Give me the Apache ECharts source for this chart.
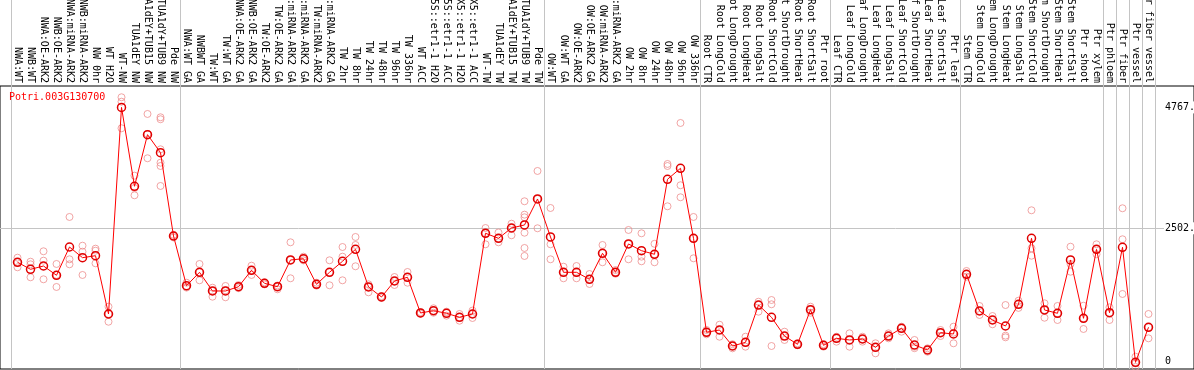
<!DOCTYPE html>
<html>
<head>
<meta charset="utf-8">
<script src="https://cdn.jsdelivr.net/npm/echarts@6/dist/echarts.min.js"></script>
<style>
  html, body { margin: 0; padding: 0; background: #fff; }
  #chart { width: 1194px; height: 370px; }
</style>
</head>
<body>
<div id="chart"></div>
<script>
const categories = [
  'NWA:WT', 'NWB:WT', 'NWA:OE-ARK2', 'NWB:OE-ARK2', 'NWA:miRNA-ARK2', 'NWB:miRNA-ARK2',
  'NW 0hr', 'WT H2O', 'WT-NW', 'TUA1dEY NW', 'TUA1dEY+TUB15 NW', 'TUA1dY+TUB9 NW', 'Pde NW',
  'NWA:WT GA', 'NWBWT GA', 'TW:WT', 'TW:WT GA', 'NWA:OE-ARK2 GA', 'NWB:OE-ARK2 GA',
  'TW:OE-ARK2', 'TW:OE-ARK2 GA', 'NWA:miRNA-ARK2 GA', 'NWB:miRNA-ARK2 GA', 'TW:miRNA-ARK2',
  'TW:miRNA-ARK2 GA', 'TW 2hr', 'TW 8hr', 'TW 24hr', 'TW 48hr', 'TW 96hr', 'TW 336hr', 'WT ACC',
  '35S::etr1-1 H2O', '35S::etr1-1 ACC', 'LMX5::etr1-1 H2O', 'LMX5::etr1-1 ACC', 'WT-TW',
  'TUA1dEY TW', 'TUA1dEY+TUB15 TW', 'TUA1dY+TUB9 TW', 'Pde TW',
  'OW:WT', 'OW:WT GA', 'OW:OE-ARK2', 'OW:OE-ARK2 GA', 'OW:miRNA-ARK2', 'OW:miRNA-ARK2 GA',
  'OW 2hr', 'OW 8hr', 'OW 24hr', 'OW 48hr', 'OW 96hr', 'OW 336hr',
  'Root CTR', 'Root LongCold', 'Root LongDrought', 'Root LongHeat', 'Root LongSalt',
  'Root ShortCold', 'Root ShortDrought', 'Root ShortHeat', 'Root ShortSalt', 'Ptr root',
  'Leaf CTR', 'Leaf LongCold', 'Leaf LongDrought', 'Leaf LongHeat', 'Leaf LongSalt',
  'Leaf ShortCold', 'Leaf ShortDrought', 'Leaf ShortHeat', 'Leaf ShortSalt', 'Ptr leaf',
  'Stem CTR', 'Stem LongCold', 'Stem LongDrought', 'Stem LongHeat', 'Stem LongSalt',
  'Stem ShortCold', 'Stem ShortDrought', 'Stem ShortHeat', 'Stem ShortSalt', 'Ptr shoot',
  'Ptr xylem', 'Ptr phloem', 'Ptr fiber', 'Ptr vessel', 'Ptr fiber vessel'
];

// first category of each separated block
const groupStarts = [0, 13, 41, 53, 63, 73, 84, 85, 86, 87];

const means = [
  1865, 1733, 1795, 1621, 2151, 1951, 1988, 896, 4767, 3289, 4256, 3919, 2357,
  1426, 1677, 1327, 1327, 1407, 1715, 1471, 1407, 1908, 1932, 1452, 1677, 1883, 2108,
  1402, 1214, 1514, 1584, 915, 958, 909, 834, 896, 2408, 2314, 2507, 2564, 3051,
  2339, 1677, 1677, 1546, 2033, 1677, 2208, 2082, 2015, 3420, 3626, 2314,
  553, 596, 296, 365, 1064, 834, 483, 328, 976, 309,
  440, 409, 427, 272, 483, 628, 315, 221, 545, 521,
  1640, 952, 783, 671, 1078, 2314, 971, 909, 1908, 815,
  2108, 920, 2146, -10, 647
];

const replicates = [
  [1951, 1865, 1771], [1876, 1827, 1584], [2071, 1895, 1546], [1833, 1627, 1402],
  [2714, 1921, 1827], [2176, 2063, 1627], [2120, 2082, 1846], [1033, 896, 751],
  [4957, 4874, 4376], [3488, 3257, 3120], [4644, 4269, 3814],
  [4582, 4545, 3982, 3731, 3669, 3295], [2380, 2357, 2330],
  [1482, 1407, 1390], [1833, 1677, 1527], [1389, 1327, 1220], [1421, 1340, 1209],
  [1439, 1407, 1380], [1801, 1715, 1627], [1490, 1471, 1450], [1430, 1407, 1359],
  [2239, 1908, 1565], [1970, 1932, 1900], [1482, 1452, 1426], [1902, 1677, 1434],
  [2151, 1970, 1527], [2339, 2189, 1790], [1452, 1402, 1302], [1230, 1214, 1195],
  [1589, 1514, 1439], [1683, 1584, 1482], [930, 915, 900], [1003, 958, 920],
  [940, 920, 864], [896, 834, 770], [960, 896, 821], [2507, 2408, 2202],
  [2423, 2314, 2239], [2588, 2507, 2371], [3008, 2757, 2708, 2419, 2133, 1983],
  [3576, 3051, 2502],
  [2882, 2202, 1921], [1782, 1677, 1565], [1795, 1677, 1565], [1645, 1546, 1458],
  [2189, 2033, 1865], [1720, 1677, 1650], [2470, 2208, 1921], [2408, 1970, 1883],
  [2211, 2015, 1865], [3707, 3669, 2914], [4475, 3308, 3083], [2714, 2314, 1940],
  [596, 553, 515], [695, 596, 470], [330, 296, 253], [470, 365, 283], [1126, 1064, 939],
  [1158, 1078, 296], [564, 483, 409], [345, 328, 310], [1033, 976, 920], [330, 309, 283],
  [470, 440, 377], [534, 409, 283], [470, 427, 377], [347, 272, 159], [534, 483, 440],
  [658, 628, 564], [409, 283, 255], [253, 221, 189], [596, 545, 483], [658, 545, 347],
  [1702, 1640, 1595], [1046, 952, 877], [858, 783, 703], [1064, 490, 459],
  [1145, 1078, 1010], [2839, 2127, 1988], [1096, 971, 826], [1046, 909, 783],
  [2157, 1833, 1688], [1051, 815, 615],
  [2202, 2108, 2015], [1021, 920, 783], [2877, 2296, 1271], [96, -30, -96], [896, 647, 440]
];

const yTickLabels = [0, 2502, 4767];
const yGridValues = [2502];

const mono = 'DejaVu Sans Mono';
const sepColor = '#c4c4c4';
const yMin = -134.9;
const yMax = 5168;

const chart = echarts.init(document.getElementById('chart'));

const repPoints = [];
replicates.forEach((vals, i) => vals.forEach(v => repPoints.push([i, v])));

const separators = {
  show: true,
  interval: (idx) => groupStarts.includes(idx),
  lineStyle: { color: sepColor, width: 1 }
};

const option = {
  animation: false,
  backgroundColor: '#fff',
  title: {
    text: 'Potri.003G130700',
    left: 9,
    top: 92,
    padding: 0,
    textStyle: { color: '#ff0000', fontSize: 10, fontWeight: 'normal', fontFamily: mono }
  },
  grid: [
    { left: 11, right: 39, top: 86, bottom: 1, outerBoundsMode: 'none', containLabel: false },
    { left: 0, right: 0, top: 86, bottom: 1, show: true, borderColor: '#000', borderWidth: 1,
      outerBoundsMode: 'none', containLabel: false },
    { left: 11, right: 39, top: 0, height: 86, outerBoundsMode: 'none', containLabel: false }
  ],
  xAxis: [
    {
      type: 'category',
      gridIndex: 0,
      data: categories,
      position: 'top',
      boundaryGap: true,
      axisLine: { show: false, onZero: false },
      axisTick: { show: false },
      axisLabel: {
        interval: 0,
        rotate: 90,
        margin: 3,
        color: '#000',
        fontSize: 10,
        fontFamily: mono
      },
      splitLine: separators
    },
    { type: 'value', gridIndex: 1, show: false, min: 0, max: 1 },
    {
      type: 'category',
      gridIndex: 2,
      data: categories,
      boundaryGap: true,
      axisLine: { show: false, onZero: false },
      axisTick: { show: false },
      axisLabel: { show: false },
      splitLine: separators
    }
  ],
  yAxis: [
    { type: 'value', gridIndex: 0, show: false, min: yMin, max: yMax },
    {
      type: 'value',
      gridIndex: 1,
      position: 'right',
      min: yMin,
      max: yMax,
      axisLine: { show: false },
      axisTick: { show: false, customValues: yGridValues },
      splitLine: { show: true, lineStyle: { color: sepColor, width: 1 } },
      axisLabel: {
        inside: true,
        align: 'left',
        margin: 30,
        customValues: yTickLabels,
        formatter: (v) => (v === 0 ? '0' : v + '.'),
        color: '#000',
        fontSize: 10,
        fontFamily: mono,
        backgroundColor: '#fff',
        padding: [1, 0, 1, 1]
      }
    },
    { type: 'value', gridIndex: 2, show: false, min: 0, max: 1 }
  ],
  series: [
    {
      type: 'scatter',
      xAxisIndex: 0,
      yAxisIndex: 0,
      data: repPoints,
      symbol: 'circle',
      symbolSize: 7,
      itemStyle: { color: 'transparent', borderColor: '#ee8f8f', borderWidth: 1 },
      z: 2
    },
    {
      type: 'line',
      xAxisIndex: 0,
      yAxisIndex: 0,
      data: means,
      showAllSymbol: true,
      symbol: 'circle',
      symbolSize: 8,
      lineStyle: { color: '#ff0000', width: 1 },
      itemStyle: { color: 'transparent', borderColor: '#e00000', borderWidth: 1.5 },
      z: 3
    }
  ]
};

chart.setOption(option);
</script>
</body>
</html>
